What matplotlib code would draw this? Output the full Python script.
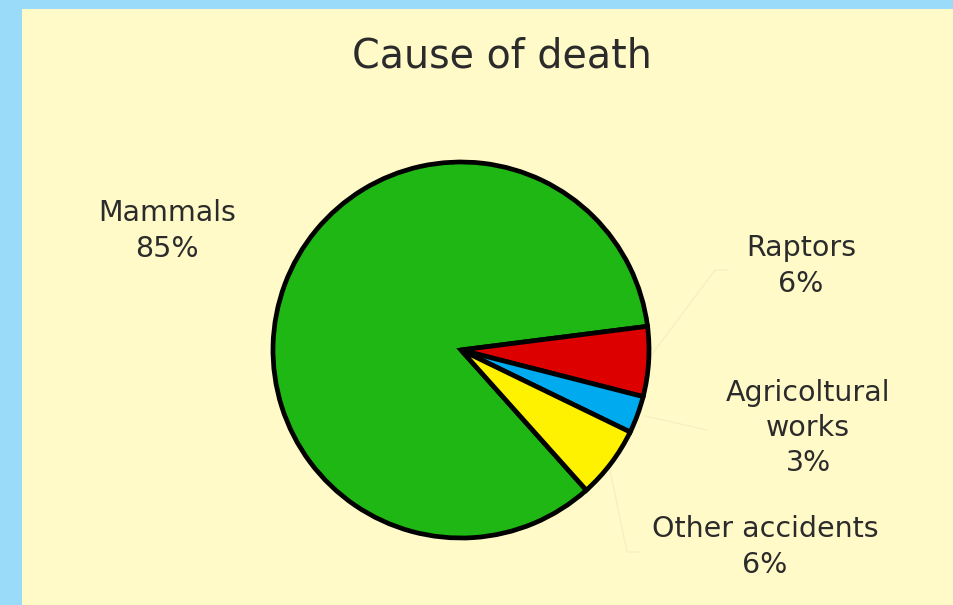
import matplotlib.pyplot as plt

categories = ["Mammals", "Raptors", "Agricoltural\nworks", "Other accidents"]
values = [84.6, 6.0, 3.2, 6.2]
colors = ["#1fb714", "#dd0000", "#00aaee", "#fff200"]

# where the labels sit, in pixels of the 954x605 picture
label_px = [(167, 231), (801, 266), (808, 428), (765, 547)]
# faint leader lines (pixels)
leader_px = [None,
             [(650, 357), (715, 270), (727, 270)],
             [(645, 416), (707, 430)],
             [(610, 470), (627, 552), (640, 552)]]

W, H = 954, 605
cx, cy, r = 461, 350, 188

fig = plt.figure(figsize=(W / 100, H / 100), dpi=100, facecolor="#99dbf9")

bg = fig.add_axes([22 / W, 0, 1 - 22 / W, 1 - 9 / H])
bg.set_facecolor("#fffac8")
bg.set_xticks([])
bg.set_yticks([])
for s in bg.spines.values():
    s.set_visible(False)

ax = fig.add_axes([(cx - r) / W, (H - cy - r) / H, 2 * r / W, 2 * r / H])
ax.set_facecolor("none")
ax.axis("off")

total = sum(values)
wedges, _ = ax.pie(values, colors=colors, startangle=-48.2, counterclock=False,
                   radius=1.0, wedgeprops=dict(edgecolor="black", linewidth=3.4))
ax.set_xlim(-1, 1)
ax.set_ylim(-1, 1)


def to_data(px, py):
    return (px - cx) / r, (cy - py) / r


for pts in leader_px:
    if pts is None:
        continue
    xs, ys = zip(*[to_data(p[0], p[1]) for p in pts])
    ax.plot(xs, ys, color="#f6efc4", lw=1, clip_on=False, zorder=0)

for name, v, (px, py) in zip(categories, values, label_px):
    x, y = to_data(px, py)
    ax.text(x, y, f"{name}\n{round(100 * v / total)}%", ha="center", va="center",
            multialignment="center", fontsize=20.5, color="#2b2b2b",
            linespacing=1.33, clip_on=False)

fig.text(502 / W, 1 - 68 / H, "Cause of death", ha="center", va="baseline",
         fontsize=28.5, color="#2b2b2b")

fig.savefig("out.png", dpi=100, facecolor=fig.get_facecolor())
